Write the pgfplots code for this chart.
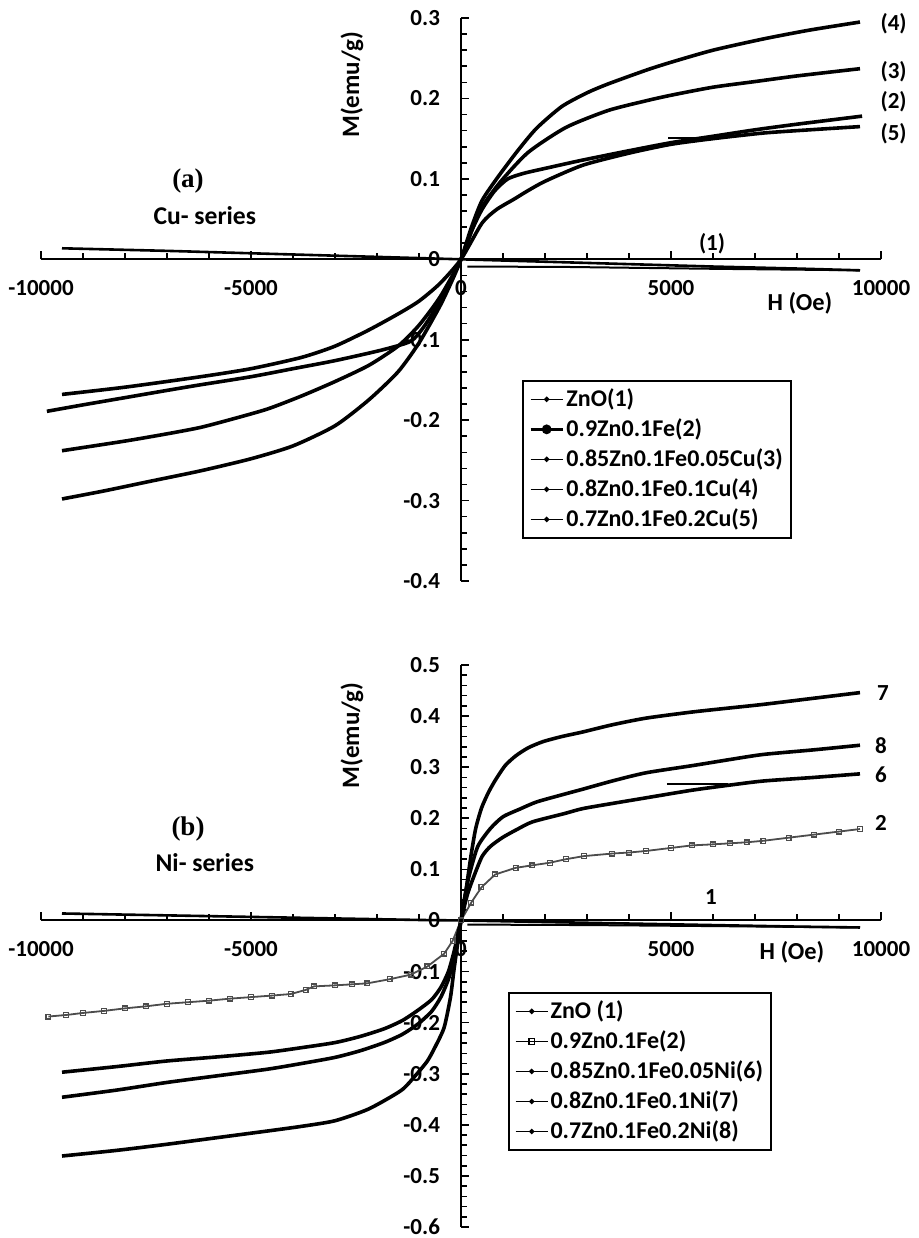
\documentclass[border=0pt]{standalone}
\usepackage{fontspec}
\setsansfont{Carlito}
\newfontfamily\timesb{Liberation Serif}
\usepackage{pgfplots}
\pgfplotsset{compat=1.18}

\tikzset{lab/.style={font=\sffamily\bfseries\fontsize{11.5}{13}\selectfont}}
\pgfplotsset{
  vsm/.style={
    scale only axis, width=420pt,
    axis lines=middle, axis line style={-, line width=1pt},
    xmin=-10000, xmax=10000,
    xtick={-10000,-5000,0,5000,10000}, minor x tick num=4, minor y tick num=4,
    tick align=inside, major tick length=4pt, minor tick length=3pt,
    every tick/.style={black, line width=0.8pt},
    hide obscured x ticks=false, hide obscured y ticks=false,
    scaled ticks=false,
    tick label style={font=\sffamily\bfseries\fontsize{11.5}{13}\selectfont},
    /pgf/number format/assume math mode=true,
    xticklabel style={yshift=-7pt, /pgf/number format/1000 sep={}},
    yticklabel style={xshift=-7pt, /pgf/number format/fixed, /pgf/number format/precision=1},
    clip=false,
    legend cell align=left,
    legend image code/.code={\draw[##1,mark repeat=2,mark phase=2] plot coordinates {(0pt,0pt)(8pt,0pt)(16pt,0pt)};},
    legend style={draw=black, line width=0.9pt, inner sep=3pt, row sep=2.6pt,
      font=\sffamily\bfseries\fontsize{12}{13}\selectfont,
      nodes={inner sep=1pt}},
  },
  crv/.style={black, line width=1.8pt, mark=none, smooth, tension=0.4,
    legend image post style={line width=0.8pt, mark=*, mark size=0.9pt, sharp plot}},
}

\begin{document}
\begin{tikzpicture}
\useasboundingbox (0,0) rectangle (459pt,-619pt);

% (a) Cu series
\begin{axis}[vsm, at={(20.5pt,-290.5pt)}, anchor=south west, height=281.5pt,
  ymin=-0.4, ymax=0.3, ytick={-0.4,-0.3,-0.2,-0.1,0,0.1,0.2,0.3},
  legend style={at={(0.5726,0.357)}, anchor=north west}]
\addplot[crv, line width=1.3pt, sharp plot] coordinates {(-9500,0.0137)(-7000,0.0105)(-5000,0.0075)(-3000,0.0045)(-1000,0.0015)(0,0)(2000,-0.003)(4000,-0.006)(6000,-0.009)(8000,-0.0115)(9500,-0.0137)};
\addlegendentry{ZnO(1)}
\addplot[crv, legend image post style={line width=1.8pt, mark=*, mark size=1.5pt, sharp plot}] coordinates {(-9860,-0.189)(-9000,-0.181)(-8000,-0.172)(-7000,-0.163)(-6200,-0.156)(-5000,-0.146)(-4000,-0.136)(-3000,-0.126)(-1900,-0.113)(-1200,-0.102)(-900,-0.085)(-650,-0.065)(-300,-0.033)(0,0)(250,0.035)(500,0.062)(800,0.085)(1114,0.100)(1500,0.107)(2000,0.113)(2864,0.123)(4000,0.135)(5000,0.145)(6000,0.153)(7000,0.161)(8000,0.168)(9550,0.178)};
\addlegendentry{0.9Zn0.1Fe(2)}
\addplot[crv] coordinates {(-9500,-0.238)(-8000,-0.226)(-7000,-0.217)(-6200,-0.209)(-5400,-0.198)(-4600,-0.186)(-3800,-0.170)(-3000,-0.152)(-2200,-0.132)(-1500,-0.108)(-1000,-0.082)(-500,-0.047)(0,0)(250,0.035)(500,0.065)(950,0.097)(1600,0.133)(2500,0.164)(3500,0.185)(4400,0.197)(5000,0.204)(6000,0.214)(7000,0.221)(8000,0.228)(9500,0.237)};
\addlegendentry{0.85Zn0.1Fe0.05Cu(3)}
\addplot[crv] coordinates {(-9500,-0.298)(-8500,-0.288)(-7400,-0.276)(-6200,-0.263)(-5000,-0.248)(-4000,-0.232)(-3000,-0.207)(-2200,-0.175)(-1500,-0.140)(-1000,-0.104)(-500,-0.058)(-200,-0.025)(0,0)(250,0.04)(500,0.073)(875,0.102)(1350,0.135)(1800,0.163)(2400,0.190)(3000,0.207)(3500,0.218)(4400,0.235)(5000,0.245)(6000,0.260)(7200,0.274)(8300,0.285)(9500,0.295)};
\addlegendentry{0.8Zn0.1Fe0.1Cu(4)}
\addplot[crv] coordinates {(-9500,-0.168)(-8000,-0.159)(-6200,-0.146)(-5000,-0.136)(-3800,-0.122)(-3000,-0.108)(-2200,-0.088)(-1500,-0.068)(-1000,-0.052)(-500,-0.030)(0,0)(500,0.045)(850,0.062)(1270,0.075)(1550,0.084)(2000,0.097)(2900,0.117)(4000,0.132)(5000,0.143)(6000,0.150)(7200,0.157)(8300,0.161)(9500,0.165)};
\addlegendentry{0.7Zn0.1Fe0.2Cu(5)}
% start-of-run segments
\addplot[crv, line width=1pt, sharp plot, forget plot] coordinates {(150,-0.009)(2500,-0.0095)(4000,-0.0105)(6000,-0.0118)(9500,-0.0137)};
\addplot[crv, line width=1pt, sharp plot, forget plot] coordinates {(4930,0.151)(6200,0.151)};

\node[lab, font=\sffamily\bfseries\fontsize{12.5}{14}\selectfont, rotate=90] at (axis cs:-2595,0.217) {M(emu/g)};
\node[lab, font=\sffamily\bfseries\fontsize{12.2}{14}\selectfont] at (axis cs:8071,-0.055) {H (Oe)};
\node[lab] at (axis cs:5976,0.020) {(1)};
\node[lab] at (axis cs:10300,0.293) {(4)};
\node[lab] at (axis cs:10300,0.2335) {(3)};
\node[lab] at (axis cs:10300,0.196) {(2)};
\node[lab] at (axis cs:10300,0.1565) {(5)};
\node[font=\timesb\bfseries\fontsize{13.5}{15}\selectfont] at (axis cs:-6500,0.097) {(a)};
\node[lab, font=\sffamily\bfseries\fontsize{12.8}{14}\selectfont] at (axis cs:-6100,0.054) {Cu- series};
\end{axis}

% (b) Ni series
\begin{axis}[vsm, at={(20.5pt,-613.5pt)}, anchor=south west, height=281pt,
  ymin=-0.6, ymax=0.5, ytick={-0.6,-0.5,-0.4,-0.3,-0.2,-0.1,0,0.1,0.2,0.3,0.4,0.5},
  legend style={at={(0.556,0.418)}, anchor=north west}]
\addplot[crv, line width=1.3pt, sharp plot] coordinates {(-9500,0.0137)(-7000,0.010)(-5000,0.007)(-3000,0.004)(-1000,0.001)(0,0)(2000,-0.003)(4000,-0.006)(6000,-0.009)(8000,-0.012)(9500,-0.0137)};
\addlegendentry{ZnO (1)}
\addplot[black!70, line width=0.9pt, mark=square, mark size=1.2pt, mark options={fill=white, line width=0.6pt},
  legend image post style={black, line width=0.8pt, mark size=1.4pt}] coordinates {(-9825,-0.188)(-9400,-0.185)(-9000,-0.181)(-8500,-0.177)(-8000,-0.172)(-7500,-0.168)(-7000,-0.163)(-6500,-0.160)(-6000,-0.157)(-5500,-0.153)(-5000,-0.150)(-4500,-0.147)(-4057,-0.144)(-3700,-0.136)(-3500,-0.129)(-3000,-0.127)(-2600,-0.125)(-2227,-0.123)(-1700,-0.115)(-1193,-0.106)(-800,-0.090)(-400,-0.065)(-200,-0.040)(0,0)(244,0.035)(488,0.065)(813,0.090)(1300,0.103)(1700,0.108)(2113,0.113)(2500,0.120)(2927,0.126)(3600,0.131)(4000,0.133)(4400,0.136)(5000,0.142)(5500,0.147)(6000,0.149)(6400,0.151)(6800,0.153)(7200,0.156)(7800,0.162)(8400,0.168)(9000,0.174)(9500,0.179)};
\addlegendentry{0.9Zn0.1Fe(2)}
\addplot[crv] coordinates {(-9500,-0.297)(-8200,-0.286)(-7000,-0.275)(-5800,-0.267)(-4600,-0.258)(-3800,-0.249)(-3000,-0.239)(-2400,-0.227)(-1830,-0.212)(-1400,-0.196)(-1030,-0.176)(-700,-0.155)(-480,-0.131)(-300,-0.100)(-160,-0.059)(0,0)(150,0.05)(300,0.085)(500,0.125)(700,0.145)(1000,0.163)(1330,0.178)(1700,0.193)(2450,0.209)(2900,0.219)(3600,0.229)(4400,0.240)(5500,0.255)(6400,0.265)(7200,0.273)(8400,0.280)(9500,0.287)};
\addlegendentry{0.85Zn0.1Fe0.05Ni(6)}
\addplot[crv] coordinates {(-9500,-0.461)(-8200,-0.450)(-7000,-0.438)(-5800,-0.425)(-4600,-0.412)(-3800,-0.403)(-3000,-0.392)(-2200,-0.369)(-1430,-0.333)(-1100,-0.305)(-800,-0.275)(-600,-0.245)(-400,-0.209)(-250,-0.150)(-160,-0.092)(0,0)(120,0.06)(244,0.13)(350,0.18)(488,0.22)(650,0.25)(813,0.274)(1050,0.303)(1300,0.322)(1600,0.338)(1950,0.350)(2400,0.360)(2900,0.369)(3600,0.383)(4400,0.396)(5500,0.408)(6400,0.416)(7200,0.423)(8400,0.435)(9500,0.446)};
\addlegendentry{0.8Zn0.1Fe0.1Ni(7)}
\addplot[crv] coordinates {(-9500,-0.346)(-8200,-0.332)(-7000,-0.317)(-5800,-0.304)(-4600,-0.291)(-3800,-0.280)(-3000,-0.268)(-2400,-0.255)(-1830,-0.239)(-1400,-0.223)(-1030,-0.203)(-700,-0.178)(-480,-0.150)(-300,-0.115)(-160,-0.072)(0,0)(100,0.05)(200,0.09)(400,0.145)(700,0.18)(1000,0.203)(1400,0.218)(1800,0.232)(2450,0.247)(2900,0.257)(3600,0.273)(4400,0.289)(5500,0.303)(6400,0.315)(7200,0.325)(8400,0.334)(9500,0.343)};
\addlegendentry{0.7Zn0.1Fe0.2Ni(8)}
\addplot[crv, line width=1pt, sharp plot, forget plot] coordinates {(150,-0.008)(3000,-0.009)(6000,-0.011)(9500,-0.0137)};
\addplot[crv, line width=1pt, sharp plot, forget plot] coordinates {(4900,0.268)(6360,0.268)};

\node[lab, font=\sffamily\bfseries\fontsize{12.5}{14}\selectfont, rotate=90] at (axis cs:-2595,0.362) {M(emu/g)};
\node[lab, font=\sffamily\bfseries\fontsize{12.2}{14}\selectfont] at (axis cs:7881,-0.063) {H (Oe)};
\node[lab] at (axis cs:5952,0.045) {1};
\node[lab] at (axis cs:10048,0.446) {7};
\node[lab] at (axis cs:10000,0.342) {8};
\node[lab] at (axis cs:10000,0.286) {6};
\node[lab] at (axis cs:10000,0.190) {2};
\node[font=\timesb\bfseries\fontsize{13.5}{15}\selectfont] at (axis cs:-6500,0.180) {(b)};
\node[lab, font=\sffamily\bfseries\fontsize{12.8}{14}\selectfont] at (axis cs:-6100,0.1135) {Ni- series};
\end{axis}
\end{tikzpicture}
\end{document}
